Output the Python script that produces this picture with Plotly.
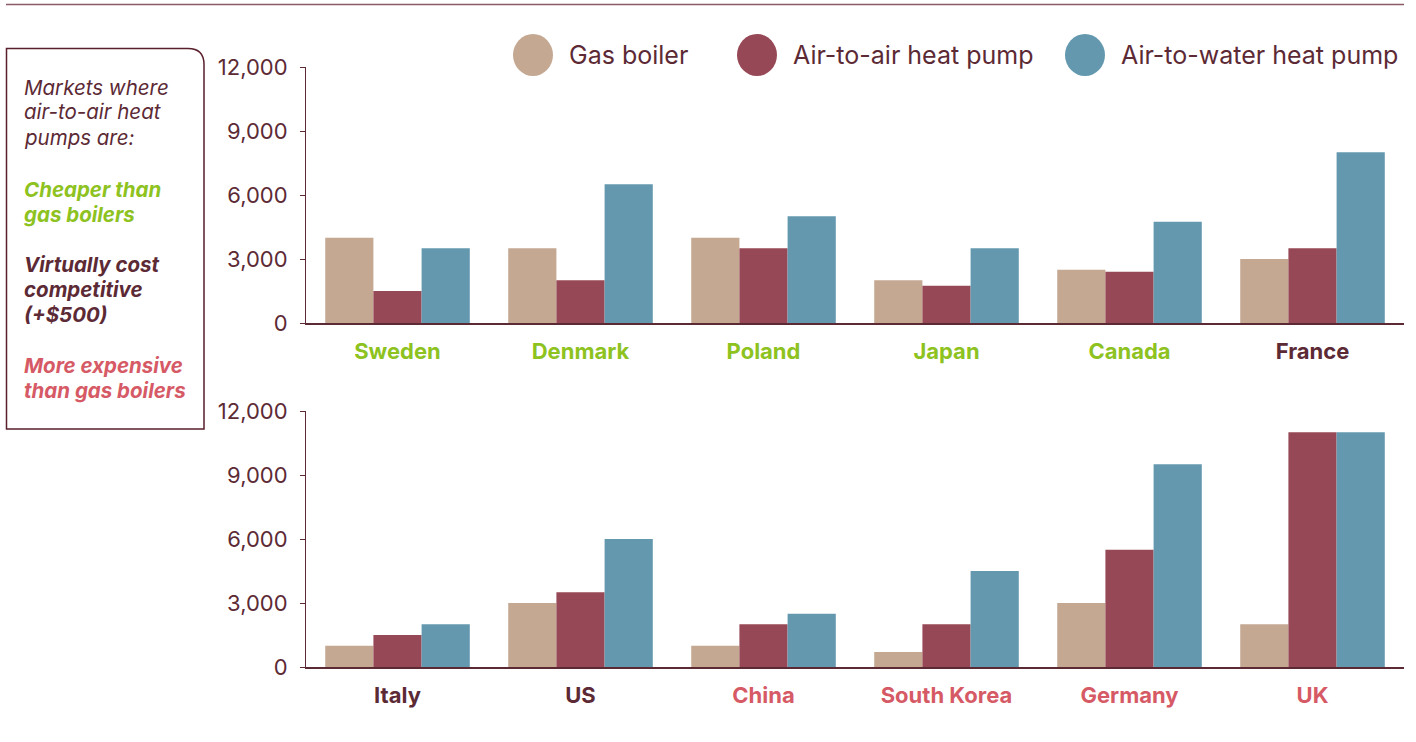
import plotly.graph_objects as go

# ---- data ----
top_countries = ["Sweden", "Denmark", "Poland", "Japan", "Canada", "France"]
top_gas = [4000, 3500, 4000, 2000, 2500, 3000]
top_a2a = [1500, 2000, 3500, 1750, 2400, 3500]
top_a2w = [3500, 6500, 5000, 3500, 4750, 8000]

bot_countries = ["Italy", "US", "China", "South Korea", "Germany", "UK"]
bot_gas = [1000, 3000, 1000, 700, 3000, 2000]
bot_a2a = [1500, 3500, 2000, 2000, 5500, 11000]
bot_a2w = [2000, 6000, 2500, 4500, 9500, 11000]

series_names = ["Gas boiler", "Air-to-air heat pump", "Air-to-water heat pump"]
y_ticks = [0, 3000, 6000, 9000, 12000]
y_ticktext = ["0", "3,000", "6,000", "9,000", "12,000"]

# category for label colouring
top_status = ["cheaper", "cheaper", "cheaper", "cheaper", "cheaper", "competitive"]
bot_status = ["competitive", "competitive", "expensive", "expensive", "expensive", "expensive"]

# ---- styles ----
C_GAS = "#C4A892"
C_A2A = "#974856"
C_A2W = "#6398AE"
C_TEXT = "#5C2A35"
C_GREEN = "#8DC21F"
C_RED = "#D65A65"
C_DARK = "#5C2A35"
status_color = {"cheaper": C_GREEN, "competitive": C_DARK, "expensive": C_RED}
FONT = "Inter, Roboto, sans-serif"

W, H = 1416, 742
PL, PR, PT, PB = 306, 1404, 67, 667   # plot area in screen px
ML, MR, MT, MB = PL, W - PR, PT, H - PB

fig = go.Figure()

colors = [C_GAS, C_A2A, C_A2W]
for vals, name, col in zip([top_gas, top_a2a, top_a2w], series_names, colors):
    fig.add_trace(go.Bar(x=top_countries, y=vals, name=name, marker=dict(color=col, line=dict(width=0)),
                         xaxis="x", yaxis="y", showlegend=False))
for vals, name, col in zip([bot_gas, bot_a2a, bot_a2w], series_names, colors):
    fig.add_trace(go.Bar(x=bot_countries, y=vals, name=name, marker=dict(color=col, line=dict(width=0)),
                         xaxis="x2", yaxis="y2", showlegend=False))


def cat_labels(names, status):
    return ["<b><span style='color:%s'>%s</span></b>" % (status_color[s], n) for n, s in zip(names, status)]


plot_h = PB - PT


def px_x(px):
    return (px - PL) / (PR - PL)


def px_y(py):
    return (PB - py) / plot_h


top_dom_bottom = px_y(323)
bot_dom_top = px_y(411)

yaxis_common = dict(range=[0, 12000], tickvals=y_ticks, ticktext=y_ticktext, showgrid=False, zeroline=False,
                    showline=True, linecolor=C_TEXT, linewidth=1, ticks="outside", ticklen=5, tickcolor=C_TEXT,
                    tickfont=dict(family=FONT, size=22, color=C_TEXT), ticklabelstandoff=8)
xaxis_common = dict(showgrid=False, showline=True, linecolor=C_TEXT, linewidth=2, ticks="",
                    tickfont=dict(family=FONT, size=22, color=C_TEXT), ticklabelstandoff=8, fixedrange=True)

fig.update_layout(
    width=W, height=H,
    margin=dict(l=ML, r=MR, t=MT, b=MB),
    paper_bgcolor="white", plot_bgcolor="white",
    barmode="group", bargap=0.21, bargroupgap=0,
    xaxis=dict(domain=[0, 1], anchor="y", tickmode="array", tickvals=top_countries,
               ticktext=cat_labels(top_countries, top_status), **xaxis_common),
    yaxis=dict(domain=[top_dom_bottom, 1], anchor="x", **yaxis_common),
    xaxis2=dict(domain=[0, 1], anchor="y2", tickmode="array", tickvals=bot_countries,
                ticktext=cat_labels(bot_countries, bot_status), **xaxis_common),
    yaxis2=dict(domain=[0, bot_dom_top], anchor="x2", **yaxis_common),
    showlegend=False,
)

shapes = []
# top rule
shapes.append(dict(type="line", xref="paper", yref="paper", x0=px_x(6), x1=px_x(1404), y0=px_y(4.5), y1=px_y(4.5),
                   line=dict(color="#8C5A66", width=1.5)))
# left box with rounded top-right corner
x0p, x1p, y0p, y1p, rad = 6.5, 204, 48.5, 429, 16
path = "M {a},{b} L {c},{b} Q {d},{b} {d},{e} L {d},{f} L {a},{f} Z".format(
    a=px_x(x0p), b=px_y(y0p), c=px_x(x1p - rad), d=px_x(x1p), e=px_y(y0p + rad), f=px_y(y1p))
shapes.append(dict(type="path", xref="paper", yref="paper", path=path, line=dict(color="#5A1F2C", width=1.5),
                   fillcolor="rgba(0,0,0,0)"))
# legend circles
leg_x = [533, 757, 1085]
for cx, col in zip(leg_x, colors):
    shapes.append(dict(type="circle", xref="paper", yref="paper", xsizemode="pixel", ysizemode="pixel",
                       xanchor=px_x(cx), yanchor=px_y(55), x0=-20, x1=20, y0=-21, y1=21,
                       fillcolor=col, line=dict(width=0)))
fig.update_layout(shapes=shapes)

annotations = []
for cx, name in zip(leg_x, series_names):
    annotations.append(dict(xref="paper", yref="paper", x=px_x(cx + 34), y=px_y(55), text=name, showarrow=False,
                            xanchor="left", yanchor="middle", font=dict(family=FONT, size=25, color=C_TEXT)))

box_lines = [
    ("<i>Markets where</i>", 87, C_TEXT),
    ("<i>air-to-air heat</i>", 112, C_TEXT),
    ("<i>pumps are:</i>", 137, C_TEXT),
    ("<b><i>Cheaper than</i></b>", 189, C_GREEN),
    ("<b><i>gas boilers</i></b>", 214, C_GREEN),
    ("<b><i>Virtually cost</i></b>", 264, C_DARK),
    ("<b><i>competitive</i></b>", 289, C_DARK),
    ("<b><i>(+$500)</i></b>", 314, C_DARK),
    ("<b><i>More expensive</i></b>", 365, C_RED),
    ("<b><i>than gas boilers</i></b>", 390, C_RED),
]
for txt, py, col in box_lines:
    annotations.append(dict(xref="paper", yref="paper", x=px_x(22), y=px_y(py), text=txt, showarrow=False,
                            xanchor="left", yanchor="middle", font=dict(family=FONT, size=20.5, color=col)))
fig.update_layout(annotations=annotations)

fig.write_html("out.html", config={"displayModeBar": False},
               post_script="document.body.style.margin='0';")
